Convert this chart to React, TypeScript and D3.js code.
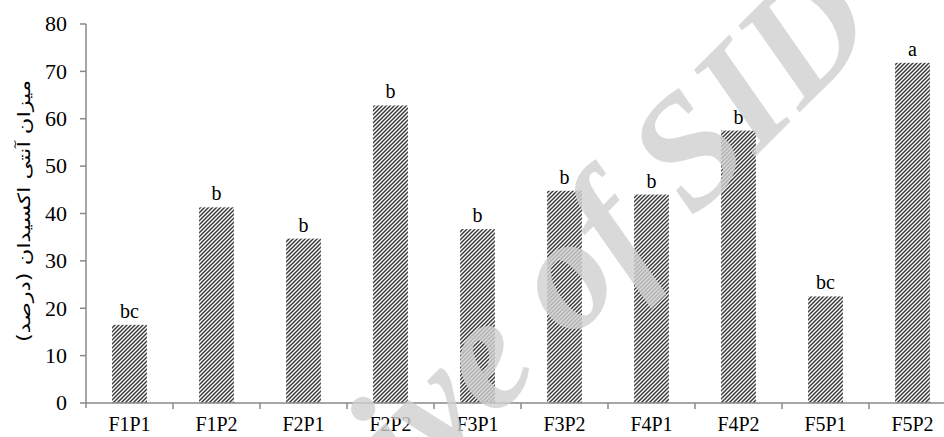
import React from "react";
import * as d3 from "d3";

const categories = ["F1P1", "F1P2", "F2P1", "F2P2", "F3P1", "F3P2", "F4P1", "F4P2", "F5P1", "F5P2"];
const values = [16.5, 41.3, 34.7, 62.8, 36.7, 44.8, 44.0, 57.5, 22.5, 71.8];
const letters = ["bc", "b", "b", "b", "b", "b", "b", "b", "bc", "a"];
const yTicks = [0, 10, 20, 30, 40, 50, 60, 70, 80];
const yTitle = "میزان آنتی اکسیدان (درصد)";
const watermark = "Archive of SID";

const W = 944;
const H = 437;
const left = 86;
const top = 24;
const bottom = 403;
const right = 956;
const axisColor = "#898989";
const serif = "'Liberation Serif', 'Times New Roman', serif";

export default function App() {
  const x = d3.scaleBand<string>().domain(categories).range([left, right]).paddingInner(0.6).paddingOuter(0.3);
  const y = d3.scaleLinear().domain([0, 80]).range([bottom, top]);
  const step = x.step();
  const bounds = d3.range(1, categories.length).map((i) => left + i * step);

  return (
    <svg width={W} height={H} style={{ position: "absolute", left: 0, top: 0, background: "#fff" }}>
      <defs>
        <pattern id="diag" patternUnits="userSpaceOnUse" width={4} height={4}>
          <rect width={4} height={4} fill="#fff" />
          <path d="M-1,1 L1,-1 M0,4 L4,0 M3,5 L5,3" stroke="#3a3a3a" strokeWidth={1.5} />
        </pattern>
      </defs>
      <rect width={W} height={H} fill="#fff" />
      {/* bars */}
      {categories.map((c, i) => (
        <rect key={c} x={x(c)} y={y(values[i])} width={x.bandwidth()} height={bottom - y(values[i])} fill="url(#diag)" />
      ))}
      {/* letters */}
      {categories.map((c, i) => (
        <text key={c + "l"} x={(x(c) as number) + x.bandwidth() / 2} y={y(values[i]) - 7} textAnchor="middle" fontFamily={serif} fontSize={20} fill="#000">
          {letters[i]}
        </text>
      ))}
      {/* y axis */}
      <line x1={left} x2={left} y1={top} y2={bottom + 5} stroke={axisColor} strokeWidth={1.5} />
      {yTicks.map((t) => (
        <g key={t}>
          <line x1={left - 6} x2={left} y1={y(t)} y2={y(t)} stroke={axisColor} strokeWidth={1.5} />
          <text x={67} y={y(t)} dy="0.33em" textAnchor="end" fontFamily={serif} fontSize={22} fill="#000">
            {t}
          </text>
        </g>
      ))}
      {/* x axis */}
      <line x1={left} x2={right} y1={bottom} y2={bottom} stroke={axisColor} strokeWidth={1.5} />
      {bounds.map((b, i) => (
        <line key={i} x1={b} x2={b} y1={bottom} y2={bottom + 6} stroke={axisColor} strokeWidth={1.5} />
      ))}
      {categories.map((c) => (
        <text key={c + "x"} x={(x(c) as number) + x.bandwidth() / 2} y={431} textAnchor="middle" fontFamily={serif} fontSize={20} fill="#000">
          {c}
        </text>
      ))}
      {/* y title */}
      <text
        transform={`translate(30,${211}) rotate(-90)`}
        textAnchor="middle"
        fontFamily="'DejaVu Sans', sans-serif"
        fontSize={17}
        fill="#000"
        direction="rtl"
        textLength={262}
        lengthAdjust="spacingAndGlyphs"
      >
        {yTitle}
      </text>
      {/* watermark */}
      <text
        transform="translate(530,382) rotate(-45)"
        textAnchor="middle"
        fontFamily={serif}
        fontWeight="bold"
        fontStyle="italic"
        fontSize={160}
        fill="#d0d0d0"
        opacity={0.8}
      >
        {watermark}
      </text>
    </svg>
  );
}
